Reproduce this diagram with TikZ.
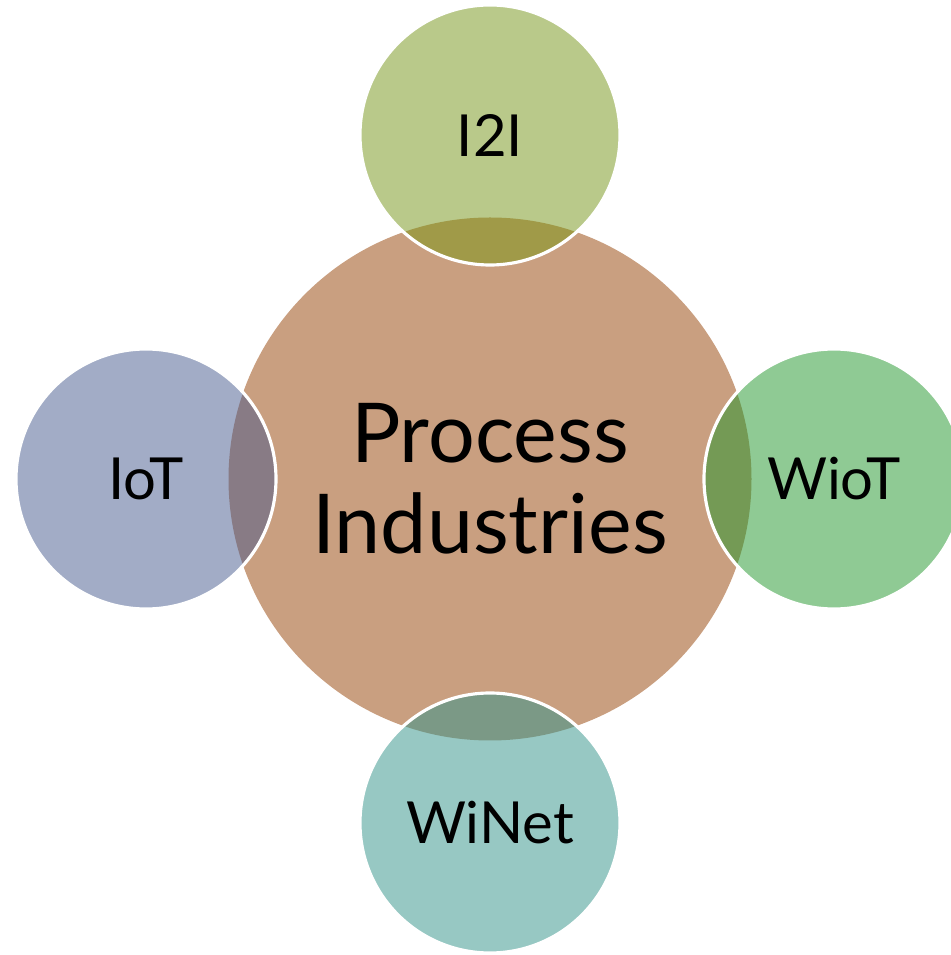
\documentclass[tikz,border=0pt]{standalone}
\usepackage{fontspec}
\setmainfont{Lato}
\usetikzlibrary{positioning}
\definecolor{procbrown}{RGB}{201,159,128}
\definecolor{itoigreen}{RGB}{185,201,138}
\definecolor{itoiover}{RGB}{160,154,72}
\definecolor{iotblue}{RGB}{162,172,198}
\definecolor{iotover}{RGB}{136,123,133}
\definecolor{wiotgreen}{RGB}{143,202,148}
\definecolor{wiotover}{RGB}{116,154,85}
\definecolor{winetteal}{RGB}{151,200,195}
\definecolor{winetover}{RGB}{123,153,134}

\begin{document}
\begin{tikzpicture}[node distance=6.88cm,on grid,
    bubble/.style={circle,minimum size=5.2cm,inner sep=0pt,font=\fontsize{33}{38}\selectfont},
    rim/.style={draw=white,line width=1.8pt}]
   \useasboundingbox (0,0) rectangle (19.02,19.10);
   \clip (0,0) rectangle (19.02,19.10);
   \node [circle,fill=procbrown,minimum size=10.46cm,inner sep=0pt,align=center,
          font=\fontsize{47}{52}\selectfont] (proc) at (9.8,9.52) {Process\\Industries};
   \node [bubble,fill=itoigreen] (I2I)  [above= of proc] {I2I};
   \node [bubble,fill=iotblue]   (IoT)  [left= of proc]  {IoT};
   \node [bubble,fill=wiotgreen] (WioT) [right= of proc] {WioT};
   \node [bubble,fill=winetteal] (WiNet) [below= of proc] {WiNet};
   % darker parts where the bubbles lie on the big circle
   \begin{scope}
     \clip (proc.center) circle (5.23cm);
     \fill [itoiover]  (I2I.center) circle (2.6cm);
     \fill [iotover]   (IoT.center) circle (2.6cm);
     \fill [wiotover]  (WioT.center) circle (2.6cm);
     \fill [winetover] (WiNet.center) circle (2.6cm);
   \end{scope}
   \foreach \n in {I2I,IoT,WioT,WiNet}
     \draw [rim] (\n.center) circle (2.6cm);
\end{tikzpicture}
\end{document}
